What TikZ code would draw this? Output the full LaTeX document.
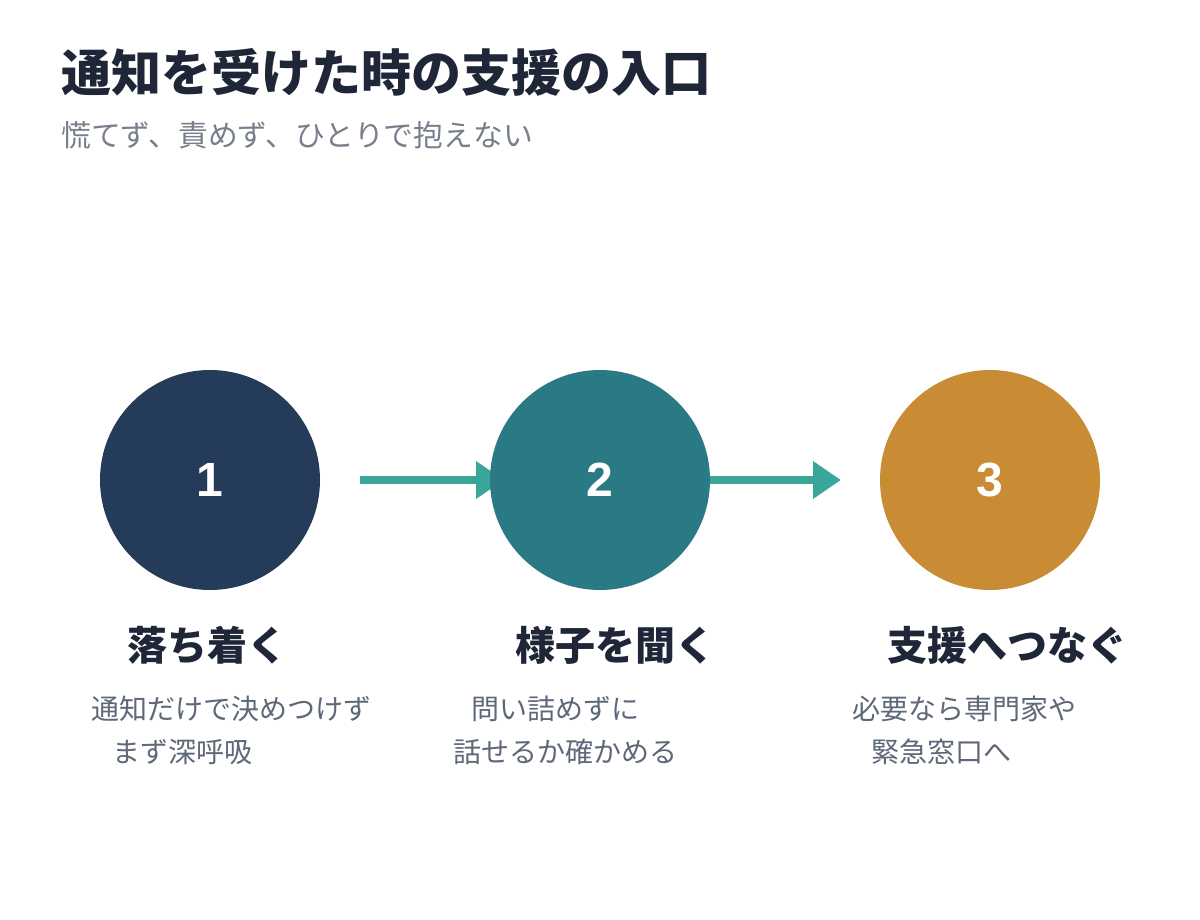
\documentclass[tikz,border=0pt]{standalone}
\usepackage{fontspec}
\newfontfamily\jp{Noto Sans CJK JP}
\newfontfamily\num{Liberation Sans}
\usetikzlibrary{arrows.meta}
\definecolor{navy}{HTML}{243B5A}
\definecolor{tealc}{HTML}{2A7A85}
\definecolor{gold}{HTML}{C98C35}
\definecolor{arrowc}{HTML}{3BA59A}
\definecolor{titlec}{HTML}{1E2637}
\definecolor{greyc}{HTML}{5F6878}
\tikzset{
  stepcircle/.style={circle, minimum size=220pt, inner sep=0pt, text=white, font=\num\bfseries\fontsize{48}{48}\selectfont},
  flow/.style={draw=arrowc, line width=8pt, -{Triangle[length=28pt,width=36pt]}},
  steplabel/.style={anchor=west, inner sep=0pt, text=titlec, font=\jp\bfseries\fontsize{40}{40}\selectfont},
  desc/.style={anchor=west, inner sep=0pt, text=greyc, font=\jp\fontsize{28}{28}\selectfont},
}
\begin{document}
\begin{tikzpicture}[x=1pt,y=-1pt]
\useasboundingbox (0,0) rectangle (1200,920);
\fill[white] (0,0) rectangle (1200,920);
\node[anchor=west, inner sep=0pt, text=titlec, font=\jp\bfseries\fontsize{50}{50}\selectfont] (title) at (61,72) {通知を受けた時の支援の入口};
\node[anchor=west, inner sep=0pt, text=greyc!85!white, font=\jp\fontsize{29.8}{29.8}\selectfont] (sub) at (61,135) {慌てず、責めず、ひとりで抱えない};
\coordinate (a1s) at (360,480);
\coordinate (a1e) at (504,480);
\coordinate (a2s) at (700,480);
\coordinate (a2e) at (841,480);
\draw[flow] (a1s) -- (a1e);
\draw[flow] (a2s) -- (a2e);
\node[stepcircle, fill=navy] (c1) at (210,480) {1};
\node[stepcircle, fill=tealc] (c2) at (600,480) {2};
\node[stepcircle, fill=gold] (c3) at (990,480) {3};
\node[steplabel] (l1) at (127,645) {落ち着く};
\node[steplabel] (l2) at (515,645) {様子を聞く};
\node[steplabel] (l3) at (887,645) {支援へつなぐ};
\node[desc] (d1a) at (91,709) {通知だけで決めつけず};
\node[desc] (d1b) at (112,752) {まず深呼吸};
\node[desc] (d2a) at (471,709) {問い詰めずに};
\node[desc] (d2b) at (453,752) {話せるか確かめる};
\node[desc] (d3a) at (852,709) {必要なら専門家や};
\node[desc] (d3b) at (871,752) {緊急窓口へ};
\end{tikzpicture}
\end{document}
